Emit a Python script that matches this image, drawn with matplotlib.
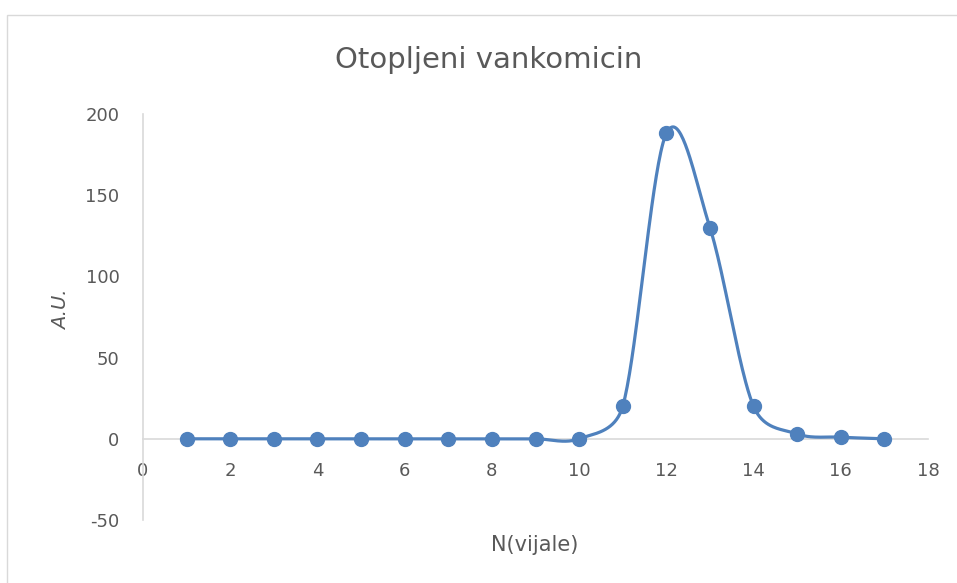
import matplotlib
matplotlib.use("Agg")
import matplotlib.pyplot as plt
from matplotlib.patches import Rectangle
import numpy as np

# Data
vials = [1, 2, 3, 4, 5, 6, 7, 8, 9, 10, 11, 12, 13, 14, 15, 16, 17]
au = [0, 0, 0, 0, 0, 0, 0, 0, 0, 0, 20, 188, 130, 20, 3, 1, 0]
x_ticks = [0, 2, 4, 6, 8, 10, 12, 14, 16, 18]
y_ticks = [-50, 0, 50, 100, 150, 200]

blue = "#4f81bd"
grey_text = "#595959"
axis_grey = "#d9d9d9"

plt.rcParams["axes.unicode_minus"] = False


def smooth_curve(ax, xs, ys, steps=40):
    # Excel-like smoothed line: bezier with tangents (p2 - p0)/6,
    # arm length capped at half the segment, worked out in pixel space
    pts = ax.transData.transform(np.column_stack([xs, ys]))
    n = len(pts)
    out = []
    t = np.linspace(0, 1, steps)[:, None]
    for i in range(n - 1):
        p0 = pts[max(i - 1, 0)]
        p1 = pts[i]
        p2 = pts[i + 1]
        p3 = pts[min(i + 2, n - 1)]
        seg = np.linalg.norm(p2 - p1)
        a1 = (p2 - p0) / 6
        if np.linalg.norm(a1) > seg / 2:
            a1 = a1 * (seg / 2) / np.linalg.norm(a1)
        a2 = (p3 - p1) / 6
        if np.linalg.norm(a2) > seg / 2:
            a2 = a2 * (seg / 2) / np.linalg.norm(a2)
        c1 = p1 + a1
        c2 = p2 - a2
        b = (1 - t) ** 3 * p1 + 3 * (1 - t) ** 2 * t * c1 + 3 * (1 - t) * t ** 2 * c2 + t ** 3 * p2
        out.append(b)
    out = np.vstack(out)
    data = ax.transData.inverted().transform(out)
    return data[:, 0], data[:, 1]


fig = plt.figure(figsize=(9.57, 5.83), dpi=100)
ax = fig.add_axes([143 / 957, 1 - 520 / 583, (928 - 143) / 957, (520 - 114) / 583])

ax.set_xlim(0, 18)
ax.set_ylim(-50, 200)
ax.set_xticks(x_ticks)
ax.set_yticks(y_ticks)

sx, sy = smooth_curve(ax, vials, au)
ax.plot(sx, sy, color=blue, lw=2.3, solid_capstyle="round", zorder=3)
ax.plot(vials, au, "o", color=blue, ms=10, zorder=4)

for side in ["top", "right"]:
    ax.spines[side].set_visible(False)
ax.spines["bottom"].set_position(("data", 0))
ax.spines["bottom"].set_color(axis_grey)
ax.spines["left"].set_color(axis_grey)
ax.spines["bottom"].set_linewidth(1.2)
ax.spines["left"].set_linewidth(1.2)
ax.tick_params(length=0, labelsize=13, colors=grey_text)
ax.tick_params(axis="x", pad=17)
ax.tick_params(axis="y", pad=17)

fig.text(489 / 957, 1 - 60 / 583, "Otopljeni vankomicin", ha="center", va="center",
         fontsize=21, color=grey_text)
fig.text(62 / 957, 1 - 310 / 583, "A.U.", ha="center", va="center", rotation=90,
         fontsize=14, style="italic", color=grey_text)
fig.text(535 / 957, 1 - 545 / 583, "N(vijale)", ha="center", va="center",
         fontsize=15, color=grey_text)

# chart area border (only top and left edges visible in the crop)
fig.patches.append(Rectangle((7 / 957, -0.1), 2, 1 - 15 / 583 + 0.1, transform=fig.transFigure,
                             fill=False, edgecolor=axis_grey, lw=1, clip_on=False))

fig.savefig("out.png", dpi=100)
